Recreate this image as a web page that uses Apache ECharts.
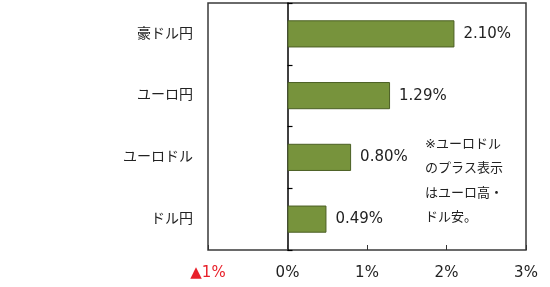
<!DOCTYPE html>
<html><head><meta charset="utf-8">
<script src="https://cdn.jsdelivr.net/npm/echarts@6/dist/echarts.min.js"></script>
<style>html,body{margin:0;padding:0;background:#fff}#c{width:550px;height:287px}</style>
</head><body><div id="c"></div>
<script>
const categories = ['豪ドル円', 'ユーロ円', 'ユーロドル', 'ドル円'];
const values = [2.10, 1.29, 0.80, 0.49];
const tickLabels = {'-1': '▲1%', '0': '0%', '1': '1%', '2': '2%', '3': '3%'};
const note = ['※ユーロドル', 'のプラス表示', 'はユーロ高・', 'ドル安。'];

const FONT = "'DejaVu Sans', 'Noto Sans CJK JP', sans-serif";
const chart = echarts.init(document.getElementById('c'));
chart.setOption({
  animation: false,
  grid: {left: 208, right: 24, top: 3, bottom: 37, show: true, borderColor: '#3a3a3a', borderWidth: 1.5, backgroundColor: '#fff'},
  xAxis: {
    type: 'value', min: -1, max: 3, interval: 1,
    splitLine: {show: false},
    axisLine: {show: false},
    axisTick: {show: true, inside: true, length: 5, lineStyle: {color: '#333'}},
    axisLabel: {
      margin: 16, fontSize: 15, fontFamily: FONT, color: '#222',
      formatter: v => {
        const t = tickLabels[String(v)];
        return v < 0 ? '{neg|' + t + '}' : t;
      },
      rich: {neg: {color: '#e8202a', fontSize: 15, fontFamily: FONT}}
    }
  },
  yAxis: {
    type: 'category', data: categories, inverse: true,
    axisLine: {show: true, onZero: true, lineStyle: {color: '#000', width: 1.5}},
    axisTick: {show: true, inside: true, length: 5, lineStyle: {color: '#000', width: 1.2}},
    axisLabel: {margin: 15, fontSize: 14, fontFamily: FONT, color: '#222'}
  },
  series: [{
    type: 'bar', data: values, barWidth: '44%',
    itemStyle: {color: '#77933c', borderColor: '#4b5f24', borderWidth: 1},
    label: {show: true, position: 'right', distance: 9, fontSize: 15, fontFamily: FONT, color: '#222',
      formatter: p => p.value.toFixed(2) + '%'}
  }],
  graphic: note.map((s, i) => ({
    type: 'text', left: 425, top: 138 + i * 24.5,
    style: {text: s, fontSize: 13, fontFamily: FONT, fill: '#222'}
  }))
});
</script></body></html>
